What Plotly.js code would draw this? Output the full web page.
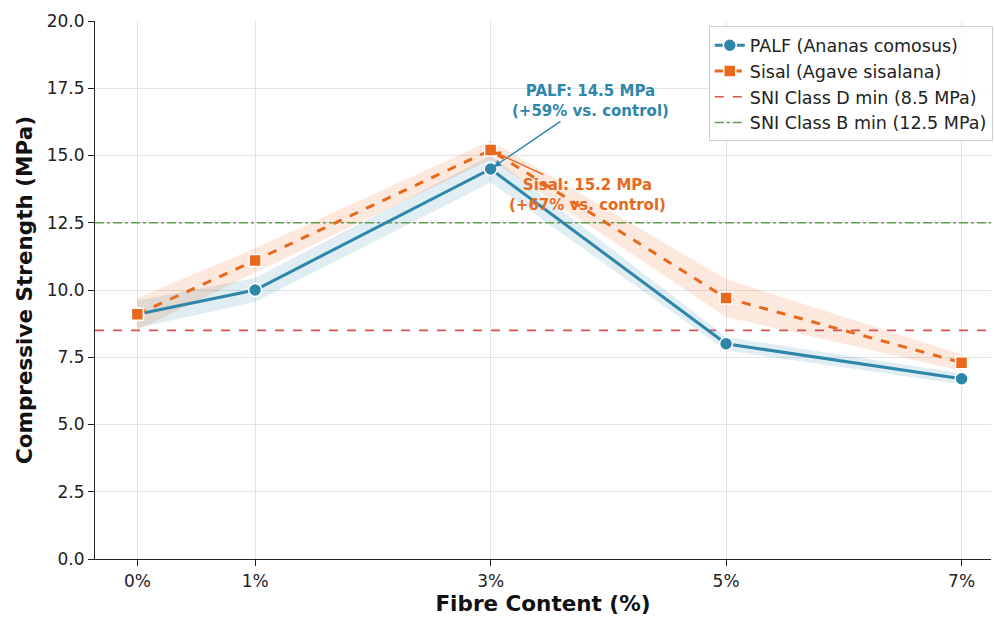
<!DOCTYPE html>
<html><head><meta charset="utf-8">
<script src="https://cdn.plot.ly/plotly-3.0.1.min.js"></script>
<style>html,body{margin:0;padding:0;background:#fff}#chart{width:995px;height:618px}</style>
</head><body><div id="chart"></div>
<script>
const fibreContent = [0, 1, 3, 5, 7];
const tickLabels = ["0%", "1%", "3%", "5%", "7%"];
const palf = [9.1, 10.0, 14.5, 8.0, 6.7];
const palfErr = [0.5, 0.45, 0.5, 0.25, 0.2];
const sisal = [9.1, 11.1, 15.2, 9.7, 7.3];
const sisalErr = [0.6, 0.45, 0.35, 0.7, 0.3];
const sniD = 8.5;
const sniB = 12.5;
const xRange = [-0.36, 7.25];

const C_PALF = "#2E86AB", C_SISAL = "#E8681C", C_D = "#D9534F", C_B = "#5E9E4C";

function band(x, y, e, color) {
  const up = y.map((v, i) => v + e[i]);
  const lo = y.map((v, i) => v - e[i]);
  return {x: x.concat(x.slice().reverse()), y: up.concat(lo.slice().reverse()),
    mode: "lines", fill: "toself", fillcolor: color, line: {width: 0},
    hoverinfo: "skip", showlegend: false};
}

const traces = [
  band(fibreContent, palf, palfErr, "rgba(46,134,171,0.15)"),
  band(fibreContent, sisal, sisalErr, "rgba(232,104,28,0.15)"),
  {x: xRange, y: [sniD, sniD], mode: "lines", name: "SNI Class D min (8.5 MPa)",
   line: {color: C_D, width: 1.6, dash: "dash"}, legendrank: 3},
  {x: xRange, y: [sniB, sniB], mode: "lines", name: "SNI Class B min (12.5 MPa)",
   line: {color: C_B, width: 1.6, dash: "dashdot"}, legendrank: 4},
  {x: fibreContent, y: palf, mode: "lines+markers", name: "PALF (Ananas comosus)",
   line: {color: C_PALF, width: 3}, legendrank: 1,
   marker: {symbol: "circle", size: 13, color: C_PALF, line: {color: "#fff", width: 1.5}}},
  {x: fibreContent, y: sisal, mode: "lines+markers", name: "Sisal (Agave sisalana)",
   line: {color: C_SISAL, width: 3, dash: "dash"}, legendrank: 2,
   marker: {symbol: "square", size: 12, color: C_SISAL, line: {color: "#fff", width: 1.5}}}
];

const font = "DejaVu Sans, sans-serif";
const layout = {
  width: 995, height: 618,
  margin: {l: 95, r: 2, t: 21, b: 59},
  paper_bgcolor: "#fff", plot_bgcolor: "#fff",
  font: {family: font, size: 14, color: "#222"},
  showlegend: true,
  legend: {x: 1.002, xanchor: "right", y: 0.99, yanchor: "top",
    bgcolor: "rgba(255,255,255,0.9)", bordercolor: "#cccccc", borderwidth: 1,
    font: {family: font, size: 17.5, color: "#222"}, traceorder: "normal", tracegroupgap: 0},
  xaxis: {range: xRange, tickvals: fibreContent, ticktext: tickLabels,
    showgrid: true, gridcolor: "#e3e3e3", gridwidth: 1, zeroline: false,
    showline: true, linecolor: "#222", linewidth: 1.2, ticks: "outside", ticklen: 6, tickcolor: "#222",
    tickfont: {size: 17, color: "#222"},
    title: {text: "<b>Fibre Content (%)</b>", font: {size: 21.5, color: "#111"}, standoff: 6}},
  yaxis: {range: [0, 20], dtick: 2.5, tickformat: ".1f",
    showgrid: true, gridcolor: "#e3e3e3", gridwidth: 1, zeroline: false,
    showline: true, linecolor: "#222", linewidth: 1.2, ticks: "outside", ticklen: 6, tickcolor: "#222",
    tickfont: {size: 17, color: "#222"},
    title: {text: "<b>Compressive Strength (MPa)</b>", font: {size: 21.5, color: "#111"}, standoff: 8}},
  annotations: [
    {x: 3, y: palf[2], xref: "x", yref: "y", text: "<b>PALF: 14.5 MPa<br>(+59% vs. control)</b>",
     showarrow: true, arrowhead: 2, arrowsize: 1, arrowwidth: 1.4, arrowcolor: C_PALF,
     ax: 100, ay: -68, standoff: 4, font: {family: font, size: 15, color: C_PALF}, align: "center"},
    {x: 3, y: sisal[2], xref: "x", yref: "y", text: "<b>Sisal: 15.2 MPa<br>(+67% vs. control)</b>",
     showarrow: true, arrowhead: 2, arrowsize: 1, arrowwidth: 1.4, arrowcolor: C_SISAL,
     ax: 97, ay: 45, standoff: 4, font: {family: font, size: 15, color: C_SISAL}, align: "center"}
  ]
};
Plotly.newPlot("chart", traces, layout, {displayModeBar: false});
</script></body></html>
